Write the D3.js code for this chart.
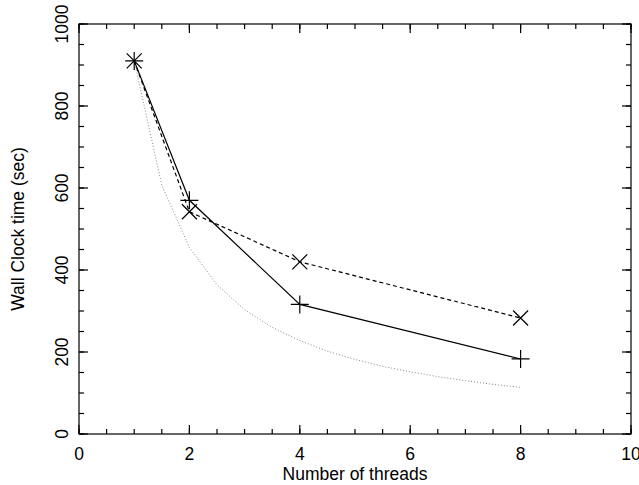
<!DOCTYPE html>
<html>
<head>
<meta charset="utf-8">
<script src="https://cdn.jsdelivr.net/npm/d3@7"></script>
<style>
  body { margin: 0; background: #fff; }
  text { font-family: "Liberation Sans", Arial, sans-serif; }
</style>
</head>
<body>
<div id="chart"></div>
<script>
// data
var threads = [1, 2, 4, 8];
var wallTimeA = [910, 570, 316, 183];   // solid line, + marks
var wallTimeB = [910, 542, 420, 283];   // dashed line, x marks
var idealThreads = [1, 1.5, 2, 2.5, 3, 3.5, 4, 4.5, 5, 5.5, 6, 6.5, 7, 7.5, 8];
var idealTime = [910, 607, 455, 364, 303, 260, 228, 202, 182, 165, 152, 140, 130, 121, 114];
var xTicks = [0, 2, 4, 6, 8, 10];
var yTicks = [0, 200, 400, 600, 800, 1000];

var w = 639,
    h = 485,
    plotL = 79,
    plotR = 631,
    plotT = 24,
    plotB = 434;

var svg = d3.select("#chart").append("svg")
    .attr("width", w)
    .attr("height", h);

var x = d3.scaleLinear().domain([0, 10]).range([plotL, plotR]);
var y = d3.scaleLinear().domain([0, 1000]).range([plotB, plotT]);

//1.ticks on all four sides, pointing in
var g = svg.append("g").attr("class", "ticks");

function tickLines(axis, values, len) {
    values.forEach(function (v) {
        if (axis == "x") {
            g.append("line").attr("x1", x(v)).attr("x2", x(v)).attr("y1", plotB).attr("y2", plotB - len);
            g.append("line").attr("x1", x(v)).attr("x2", x(v)).attr("y1", plotT).attr("y2", plotT + len);
        } else {
            g.append("line").attr("y1", y(v)).attr("y2", y(v)).attr("x1", plotL).attr("x2", plotL + len);
            g.append("line").attr("y1", y(v)).attr("y2", y(v)).attr("x1", plotR).attr("x2", plotR - len);
        }
    });
}
tickLines("x", d3.range(0, 10.01, 0.5), 5);
tickLines("x", xTicks, 9);
tickLines("y", d3.range(0, 1001, 50), 5);
tickLines("y", yTicks, 9);
g.selectAll("line").attr("stroke", "#000").attr("stroke-width", 1.2);

//2.frame
svg.append("rect")
    .attr("x", plotL).attr("y", plotT)
    .attr("width", plotR - plotL).attr("height", plotB - plotT)
    .attr("fill", "none").attr("stroke", "#000").attr("stroke-width", 1.2);

//3.tick labels
svg.append("g").selectAll("text").data(xTicks).enter()
    .append("text")
    .attr("x", function (d) { return x(d); })
    .attr("y", 460)
    .attr("text-anchor", "middle")
    .attr("font-size", "17.5px")
    .text(function (d) { return d; });

svg.append("g").selectAll("text").data(yTicks).enter()
    .append("text")
    .attr("transform", function (d) { return "translate(68," + y(d) + ") rotate(-90)"; })
    .attr("text-anchor", "middle")
    .attr("font-size", "17.5px")
    .text(function (d) { return d; });

//4.axis titles
svg.append("text")
    .attr("x", (plotL + plotR) / 2)
    .attr("y", 480)
    .attr("text-anchor", "middle")
    .attr("font-size", "17.5px")
    .text("Number of threads");

svg.append("text")
    .attr("transform", "translate(24," + (plotT + plotB) / 2 + ") rotate(-90)")
    .attr("text-anchor", "middle")
    .attr("font-size", "17.5px")
    .text("Wall Clock time (sec)");

//5.lines
var line = d3.line()
    .x(function (d) { return x(d[0]); })
    .y(function (d) { return y(d[1]); });

svg.append("path")
    .datum(d3.zip(idealThreads, idealTime))
    .attr("d", line)
    .attr("fill", "none")
    .attr("stroke", "#888")
    .attr("stroke-width", 1)
    .attr("stroke-dasharray", "1,2");

svg.append("path")
    .datum(d3.zip(threads, wallTimeB))
    .attr("d", line)
    .attr("fill", "none")
    .attr("stroke", "#000")
    .attr("stroke-width", 1.2)
    .attr("stroke-dasharray", "4,3");

svg.append("path")
    .datum(d3.zip(threads, wallTimeA))
    .attr("d", line)
    .attr("fill", "none")
    .attr("stroke", "#000")
    .attr("stroke-width", 1.2);

//6.markers
var r = 9;
svg.append("g").selectAll("path").data(d3.zip(threads, wallTimeA)).enter()
    .append("path")
    .attr("d", function (d) {
        var cx = x(d[0]), cy = y(d[1]);
        return "M" + (cx - r) + "," + cy + "H" + (cx + r) + "M" + cx + "," + (cy - r) + "V" + (cy + r);
    })
    .attr("stroke", "#000")
    .attr("stroke-width", 1.2);

var s = 7.5;
svg.append("g").selectAll("path").data(d3.zip(threads, wallTimeB)).enter()
    .append("path")
    .attr("d", function (d) {
        var cx = x(d[0]), cy = y(d[1]);
        return "M" + (cx - s) + "," + (cy - s) + "L" + (cx + s) + "," + (cy + s) +
               "M" + (cx - s) + "," + (cy + s) + "L" + (cx + s) + "," + (cy - s);
    })
    .attr("stroke", "#000")
    .attr("stroke-width", 1.2);
</script>
</body>
</html>
